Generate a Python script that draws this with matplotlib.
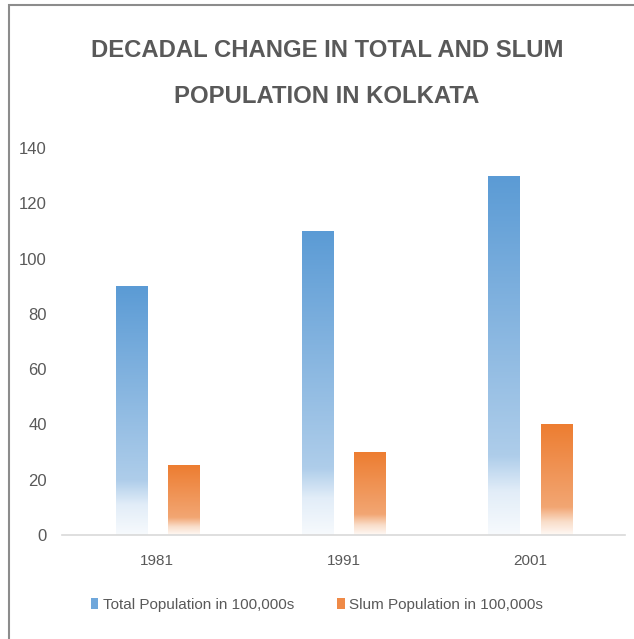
import numpy as np
import matplotlib
matplotlib.use("Agg")
import matplotlib.pyplot as plt
from matplotlib.colors import LinearSegmentedColormap
from matplotlib.patches import Rectangle, Patch

# data
years = ["1981", "1991", "2001"]
total_pop = [90, 110, 130]
slum_pop = [25, 30, 40]
labels = ["Total Population in 100,000s", "Slum Population in 100,000s"]

plt.rcParams['font.family'] = ['Liberation Sans', 'DejaVu Sans']
grey = '#595959'

# gradient maps (0 = bottom of bar, 1 = top)
blue_cmap = LinearSegmentedColormap.from_list(
    'blue', [(0.0, '#F7FAFD'), (0.12, '#E2EDF8'), (0.22, '#AECDEA'), (1.0, '#5B9BD5')])
orange_cmap = LinearSegmentedColormap.from_list(
    'orange', [(0.0, '#FFF9F5'), (0.12, '#F9DDC9'), (0.25, '#F2A673'), (1.0, '#ED7D31')])

fig = plt.figure(figsize=(6.34, 6.39), dpi=100)
ax = fig.add_axes([0.098, 0.163, 0.888, 0.605])

x = np.arange(len(years))
w = 0.167
off = 0.14
grad = np.linspace(0, 1, 256).reshape(-1, 1)

for vals, dx, cmap in [(total_pop, -off, blue_cmap), (slum_pop, off, orange_cmap)]:
    bars = ax.bar(x + dx, vals, width=w, color='none', edgecolor='none')
    for b in bars:
        bx, bw, bh = b.get_x(), b.get_width(), b.get_height()
        ax.imshow(grad, extent=[bx, bx + bw, 0, bh], origin='lower',
                  cmap=cmap, aspect='auto', zorder=2)

ax.set_xlim(-0.51, 2.51)
ax.set_ylim(0, 140)
ax.set_yticks(range(0, 141, 20))
ax.set_xticks(x)
ax.set_xticklabels(years)

for s in ['top', 'right', 'left']:
    ax.spines[s].set_visible(False)
ax.spines['bottom'].set_color('#D9D9D9')
ax.spines['bottom'].set_linewidth(1.2)
ax.tick_params(axis='y', length=0, pad=11, labelsize=12, labelcolor=grey)
ax.tick_params(axis='x', length=0, pad=14, labelsize=11, labelcolor=grey)

fig.text(0.516, 0.885, "DECADAL CHANGE IN TOTAL AND SLUM\nPOPULATION IN KOLKATA",
         ha='center', va='center', fontsize=17.2, fontweight='bold', color=grey,
         linespacing=2.3)

handles = [Patch(facecolor='#6FA7DB'), Patch(facecolor='#EF8A47')]
fig.legend(handles, labels, loc='center', bbox_to_anchor=(0.5, 0.053), ncol=2,
           frameon=False, fontsize=11, labelcolor=grey, handlelength=0.5,
           handleheight=0.7, handletextpad=0.3, columnspacing=2.8)

# chart border (cropped at right/bottom)
fig.patches.append(Rectangle((9 / 634, -0.1), 1.2, 1 - 5 / 639 + 0.1,
                             transform=fig.transFigure, fill=False,
                             edgecolor='#8C8C8C', linewidth=1.5))

fig.savefig('out.png', dpi=100)
